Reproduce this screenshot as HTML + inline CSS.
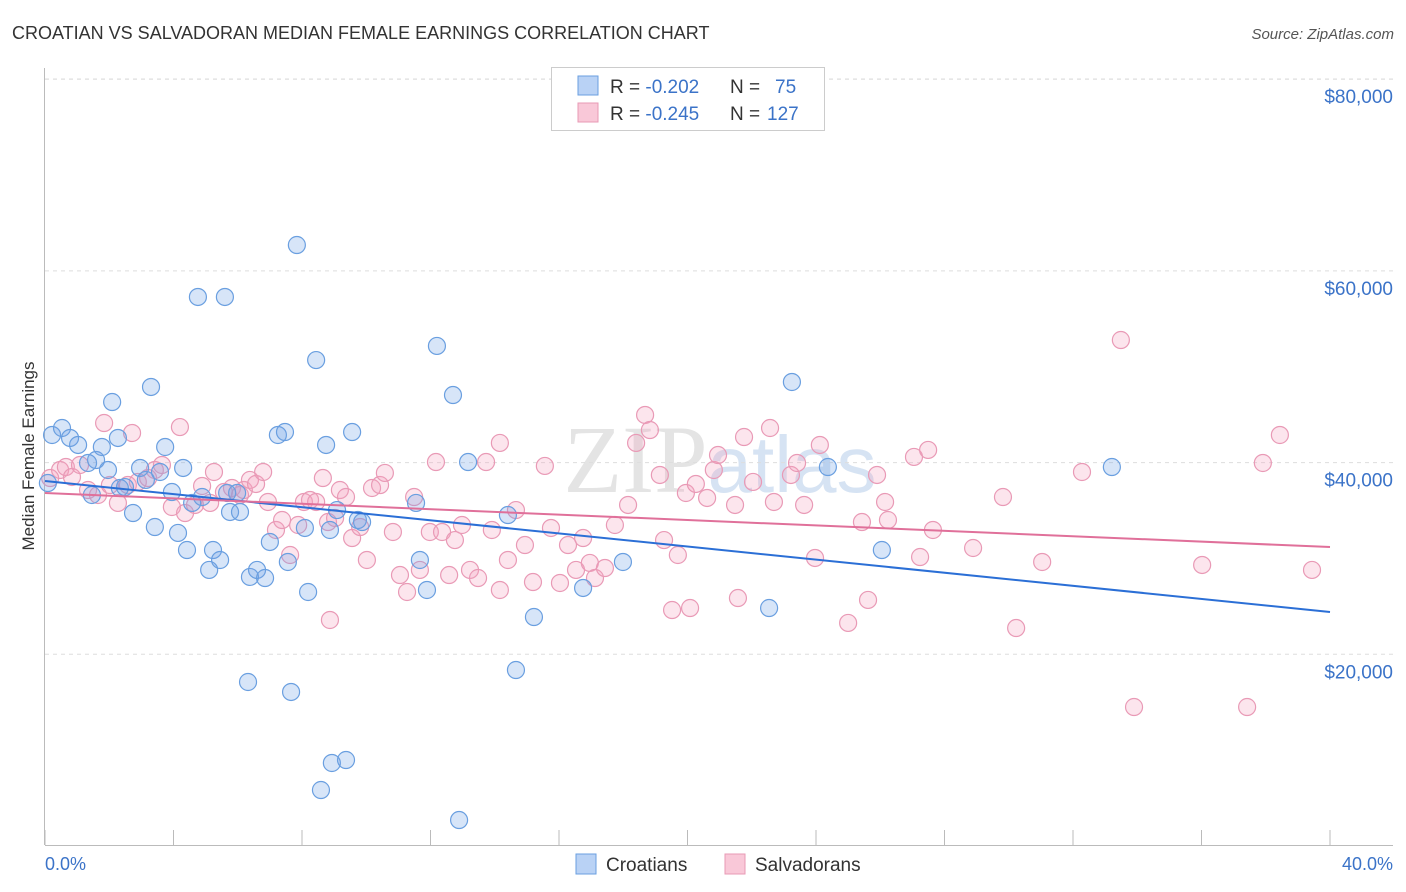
<!DOCTYPE html>
<html><head><meta charset="utf-8">
<style>
body{margin:0;background:#fff;font-family:"Liberation Sans",sans-serif;}
#wrap{position:relative;width:1406px;height:892px;overflow:hidden;}
</style></head>
<body>
<div id="wrap">
<svg id="chart" width="1406" height="892" xmlns="http://www.w3.org/2000/svg">
<text x="12" y="39" font-size="18" fill="#333">CROATIAN VS SALVADORAN MEDIAN FEMALE EARNINGS CORRELATION CHART</text>
<text x="1394" y="39" font-size="15" fill="#555" font-style="italic" text-anchor="end">Source: ZipAtlas.com</text>
<text x="720" y="492" font-size="96" fill="#e4e4e4" text-anchor="middle" font-family="Liberation Serif,serif">ZIP<tspan fill="#d6e3f3" font-family="Liberation Sans,sans-serif" font-size="80">atlas</tspan></text>
<text transform="translate(34,456) rotate(-90)" font-size="17" fill="#333" text-anchor="middle">Median Female Earnings</text>
<g id="grid"></g><g id="pts"></g><g id="lines"></g>
<g>
<rect x="551.5" y="67.5" width="273" height="63" fill="#fff" stroke="#ccc"/>
<rect x="578" y="76" width="20" height="19" fill="#b9d2f5" stroke="#6a9fe0"/>
<rect x="578" y="103" width="20" height="19" fill="#f9c8d8" stroke="#e89ab5"/>
<text x="610" y="93" font-size="19" fill="#333">R = <tspan fill="#3b73c8">-0.202</tspan><tspan x="730">N = </tspan><tspan fill="#3b73c8" x="775">75</tspan></text>
<text x="610" y="120" font-size="19" fill="#333">R = <tspan fill="#3b73c8">-0.245</tspan><tspan x="730">N = </tspan><tspan fill="#3b73c8" x="767">127</tspan></text>
</g>
<g>
<rect x="576" y="854" width="20" height="20" fill="#b9d2f5" stroke="#6a9fe0"/>
<text x="606" y="871" font-size="19" fill="#333">Croatians</text>
<rect x="725" y="854" width="20" height="20" fill="#f9c8d8" stroke="#e89ab5"/>
<text x="755" y="871" font-size="19" fill="#333">Salvadorans</text>
</g>
<text x="45" y="870" font-size="18" fill="#3b73c8">0.0%</text>
<text x="1393" y="870" font-size="18" fill="#3b73c8" text-anchor="end">40.0%</text>
</svg>
</div>
<script>
const yTicks=[20000,40000,60000,80000];
const yTickLabels=["$20,000","$40,000","$60,000","$80,000"];
const xTicks=[0,4,8,12,16,20,24,28,32,36,40];
const croX=[0.22,0.53,0.78,1.03,1.59,1.77,2.09,2.27,1.96,1.34,1.46,2.49,2.74,2.96,3.14,3.30,3.42,3.58,3.74,3.95,4.14,4.30,4.42,4.58,4.76,4.89,5.11,5.23,5.45,5.60,5.76,5.98,6.07,6.38,6.60,6.85,7.00,7.25,7.47,7.56,7.84,8.09,8.19,8.44,8.75,8.87,9.09,9.56,9.74,6.32,7.66,8.93,9.37,8.59,11.55,11.67,11.89,12.20,12.70,13.17,14.41,14.66,15.22,16.75,17.99,22.54,23.25,24.37,26.05,33.21,12.89,9.87,5.67,2.33,0.09];
const croY=[42880,43610,42570,41840,40270,41630,46320,42570,39230,39960,36620,37450,34740,39440,38190,47890,33280,39020,41630,36930,32660,39440,30880,35790,57280,36410,28800,30880,29840,57280,34850,36830,34850,28070,28800,27960,31720,42880,43190,29630,62700,33180,26500,50700,41840,32970,35050,43190,34010,17110,16070,8660,8970,5840,35790,29840,26710,52170,47050,40060,34530,18360,23890,26920,29630,24830,48410,39540,30880,39540,2710,33800,36830,37350,37870];
const salX=[0.16,0.47,0.65,0.84,1.09,1.34,1.65,1.84,2.02,2.27,2.58,2.71,2.89,3.21,3.42,3.64,3.95,4.20,4.36,4.67,4.89,5.14,5.26,5.57,5.82,6.07,6.19,6.38,6.57,6.79,6.94,7.19,7.38,7.63,7.88,8.06,8.25,8.44,8.65,8.81,9.03,9.18,9.37,9.56,9.81,10.02,10.18,10.43,10.58,10.83,11.05,11.27,11.49,11.67,11.98,12.17,12.36,12.58,12.76,12.98,13.23,13.48,13.73,13.91,14.16,14.41,14.66,14.94,15.19,15.56,15.75,16.03,16.28,16.53,16.75,16.96,17.12,17.43,17.74,18.15,18.40,18.68,18.83,19.14,19.27,19.52,19.70,19.95,20.08,20.26,20.61,20.82,20.95,21.48,21.57,21.76,22.04,22.57,22.69,23.22,23.41,23.63,23.97,24.12,25.00,25.43,25.62,25.90,26.15,26.24,27.05,27.24,27.49,27.64,28.89,29.82,30.23,31.04,32.28,33.49,33.90,36.02,37.42,37.91,38.44,39.44,8.87,14.16];
const salY=[38390,39230,39540,38500,39750,37140,36620,44130,37660,35790,37660,43090,37980,38390,39230,39750,35370,43710,34740,35580,37560,35790,39020,36930,37350,36620,37140,38190,37770,39020,35890,32970,34010,30360,33490,35890,36100,35890,38390,33800,34220,37140,36410,32130,33280,29840,37350,37660,38920,32760,28270,26500,36410,28800,32760,40060,32760,28270,31920,33490,28800,27960,40060,32970,42050,29840,35050,31400,27540,39650,33180,27440,31400,28800,32130,29530,27960,29000,33490,35580,42050,44970,43400,38710,31920,24620,30360,36830,24830,37770,36310,39230,40790,35580,25870,42670,37980,43610,35890,38710,39960,35580,30050,41840,23270,33800,25670,38710,35890,34010,40590,30150,41320,32970,31090,36410,22740,29630,39020,52790,14500,29320,14500,39960,42880,28800,23580,26710];
const croTrend=[38080,24410];
const salTrend=[36830,31190];

const NS="http://www.w3.org/2000/svg";
const X0=45,X1=1330,YB=846,PXPER=191.7/20000;
function sx(v){return X0+(v/40)*(X1-X0);}
function sy(v){return YB-v*PXPER;}
function mk(tag,attrs,parent){const e=document.createElementNS(NS,tag);for(const k in attrs)e.setAttribute(k,attrs[k]);parent.appendChild(e);return e;}
const grid=document.getElementById('grid');
yTicks.forEach((t,i)=>{
  const l=mk('line',{x1:45,x2:1393,y1:sy(t),y2:sy(t),stroke:'#ddd','stroke-dasharray':'4,4'},grid);
  
  
  const tx=mk('text',{x:1393,y:sy(t)+24,'font-size':19,fill:'#3b73c8','text-anchor':'end'},grid);
  tx.textContent=yTickLabels[i];
  
  
});
const topl=mk('line',{x1:45,x2:1393,y1:79,y2:79,stroke:'#ddd','stroke-dasharray':'4,4'},grid);


const ax=mk('line',{x1:45,x2:1393,y1:845.5,y2:845.5,stroke:'#bbb'},grid);


const ay=mk('line',{x1:44.5,x2:44.5,y1:68,y2:845,stroke:'#bbb'},grid);


xTicks.forEach(t=>{
  const l=mk('line',{x1:sx(t),x2:sx(t),y1:830,y2:845,stroke:'#bbb'},grid);
  
  
});
const pts=document.getElementById('pts');
function drawSeries(xs,ys,fill,stroke,name){
  xs.forEach((x,i)=>{
    const c=mk('circle',{cx:sx(x),cy:sy(ys[i]),r:8.5,fill:fill,stroke:stroke,'stroke-width':1.2},pts);
    
    
  });
}
drawSeries(salX,salY,'rgba(244,160,190,0.28)','#e99ab6','salvadoran-point');
drawSeries(croX,croY,'rgba(110,160,230,0.28)','#6a9fe0','croatian-point');
const lines=document.getElementById('lines');
const lb=mk('line',{x1:sx(0),y1:sy(croTrend[0]),x2:sx(40),y2:sy(croTrend[1]),stroke:'#2b6fd6','stroke-width':2},lines);


const lp=mk('line',{x1:sx(0),y1:sy(salTrend[0]),x2:sx(40),y2:sy(salTrend[1]),stroke:'#e0709a','stroke-width':2},lines);


</script>
</body></html>
